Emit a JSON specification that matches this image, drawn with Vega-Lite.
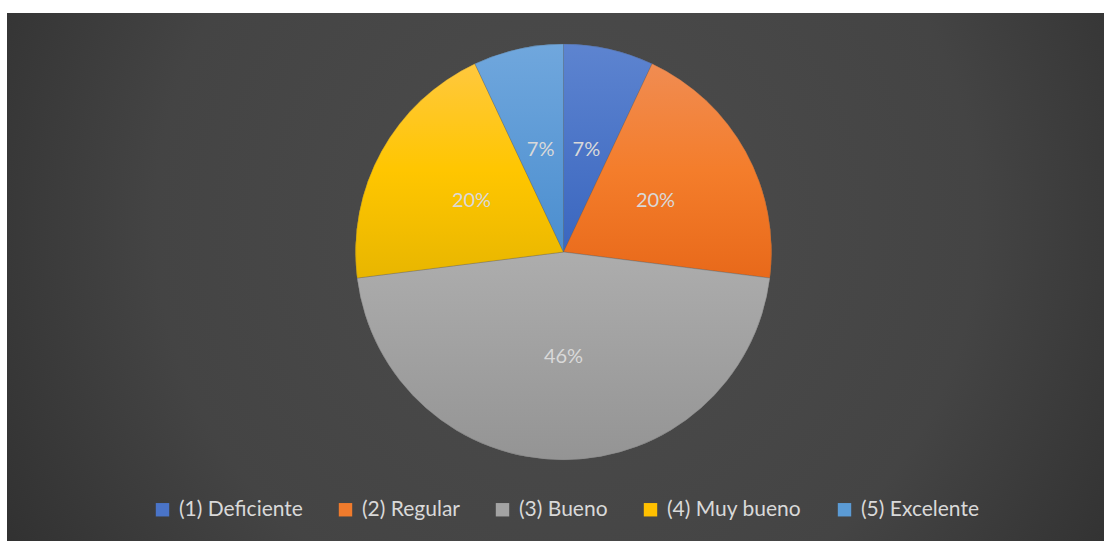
{
  "$schema": "https://vega.github.io/schema/vega-lite/v6.json",
  "width": 1104,
  "height": 541,
  "autosize": {"type": "fit", "contains": "padding"},
  "padding": {"left": 7, "top": 13, "right": 0, "bottom": 0},
  "background": "#ffffff",
  "config": {
    "view": {"stroke": null},
    "font": "Lato"
  },
  "data": {
    "values": [
      {"categoria": "(1) Deficiente", "valor": 0.07},
      {"categoria": "(2) Regular", "valor": 0.20},
      {"categoria": "(3) Bueno", "valor": 0.46},
      {"categoria": "(4) Muy bueno", "valor": 0.20},
      {"categoria": "(5) Excelente", "valor": 0.07}
    ]
  },
  "layer": [
    {
      "data": {"values": [{"fondo": 1}]},
      "mark": {
        "type": "rect",
        "color": {
          "gradient": "radial",
          "x1": 0.51, "y1": 0.45, "r1": 0,
          "x2": 0.51, "y2": 0.45, "r2": 0.75,
          "stops": [
            {"offset": 0, "color": "#4c4c4c"},
            {"offset": 0.5, "color": "#444444"},
            {"offset": 1, "color": "#232323"}
          ]
        }
      },
      "encoding": {}
    },
    {
      "mark": {"type": "arc", "outerRadius": 208, "xOffset": 8, "yOffset": -25},
      "encoding": {
        "theta": {"field": "valor", "type": "quantitative", "stack": true},
        "order": {"field": "categoria", "type": "nominal", "sort": "ascending"},
        "color": {
          "field": "categoria",
          "type": "nominal",
          "scale": {
            "domain": ["(1) Deficiente", "(2) Regular", "(3) Bueno", "(4) Muy bueno", "(5) Excelente"],
            "range": ["#4a74c8", "#f07b2c", "#a3a3a3", "#ffc000", "#5b9bd5"]
          },
          "legend": {
            "title": null,
            "orient": "none",
            "direction": "horizontal",
            "legendX": 145,
            "legendY": 486,
            "symbolType": "square",
            "symbolSize": 180,
            "symbolStrokeWidth": 0,
            "symbolOpacity": 1,
            "labelFont": "Lato",
            "labelFontSize": 21,
            "labelColor": "#d9d9d9",
            "labelOffset": 6,
            "columnPadding": 32,
            "labelLimit": 300
          }
        }
      }
    },
    {
      "mark": {"type": "arc", "outerRadius": 208, "xOffset": 8, "yOffset": -25, "stroke": "#5a5a5a", "strokeWidth": 0.5, "strokeOpacity": 0.6},
      "encoding": {
        "theta": {"field": "valor", "type": "quantitative", "stack": true},
        "order": {"field": "categoria", "type": "nominal", "sort": "ascending"},
        "color": {
          "condition": [
            {"test": "datum.categoria === '(1) Deficiente'", "value": {"gradient": "linear", "x1": 0, "y1": 0, "x2": 0, "y2": 1, "stops": [{"offset": 0, "color": "#5d84d0"}, {"offset": 1, "color": "#3a66bf"}]}},
            {"test": "datum.categoria === '(2) Regular'", "value": {"gradient": "linear", "x1": 0, "y1": 0, "x2": 0, "y2": 1, "stops": [{"offset": 0, "color": "#f08c52"}, {"offset": 0.5, "color": "#f47d2b"}, {"offset": 1, "color": "#e8691a"}]}},
            {"test": "datum.categoria === '(3) Bueno'", "value": {"gradient": "linear", "x1": 0, "y1": 0, "x2": 0, "y2": 1, "stops": [{"offset": 0, "color": "#adadad"}, {"offset": 1, "color": "#949494"}]}},
            {"test": "datum.categoria === '(4) Muy bueno'", "value": {"gradient": "linear", "x1": 0, "y1": 0, "x2": 0, "y2": 1, "stops": [{"offset": 0, "color": "#ffc83e"}, {"offset": 0.5, "color": "#ffc600"}, {"offset": 1, "color": "#e8b600"}]}}
          ],
          "value": {"gradient": "linear", "x1": 0, "y1": 0, "x2": 0, "y2": 1, "stops": [{"offset": 0, "color": "#70a7dd"}, {"offset": 1, "color": "#4b8ecf"}]}
        }
      }
    },
    {
      "mark": {"type": "text", "radius": 105, "xOffset": 8, "yOffset": -25, "font": "Lato", "fontSize": 20, "color": "#d9d9d9"},
      "encoding": {
        "theta": {"field": "valor", "type": "quantitative", "stack": true},
        "order": {"field": "categoria", "type": "nominal", "sort": "ascending"},
        "text": {"field": "valor", "type": "quantitative", "format": ".0%"}
      }
    }
  ]
}
